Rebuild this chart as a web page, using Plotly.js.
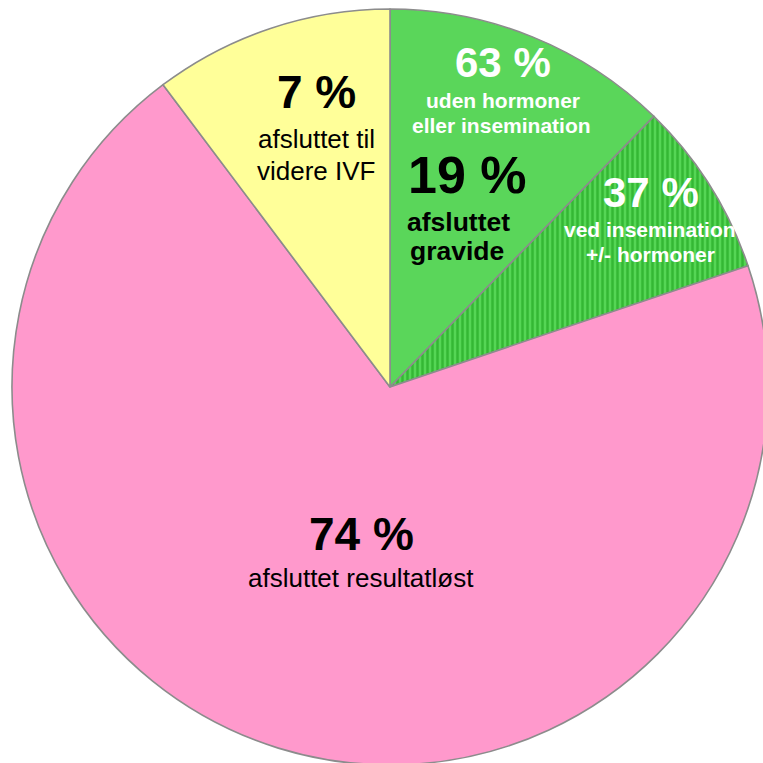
<!DOCTYPE html>
<html>
<head>
<meta charset="utf-8">
<script src="https://cdn.plot.ly/plotly-3.0.1.min.js"></script>
<style>
html, body { margin: 0; padding: 0; overflow: hidden; background: #ffffff; }
#chart { width: 800px; height: 800px; }
</style>
</head>
<body>
<div id="chart"></div>
<script>
// Slice categories (clockwise from 12 o'clock) and their drawn shares
const categories = ["uden hormoner eller insemination", "ved insemination +/- hormoner", "afsluttet resultatløst", "afsluttet til videre IVF"];
const shares = [12.3, 7.5, 69.95, 10.25];
const sliceColors = ["#5AD65A", "#3DBE3D", "#FF99CC", "#FFFF99"];

// Label texts shown on the chart
const pctLabels = ["63 %", "37 %", "74 %", "7 %", "19 %"];
const descLabels = [
  ["uden hormoner", "eller insemination"],
  ["ved insemination", "+/- hormoner"],
  ["afsluttet resultatløst"],
  ["afsluttet til", "videre IVF"],
  ["afsluttet", "gravide"]
];

const W = 800, H = 800;
function px(x) { return x / W; }
function py(y) { return 1 - y / H; }

const trace = {
  type: "pie",
  values: shares,
  labels: categories,
  sort: false,
  direction: "clockwise",
  rotation: 0,
  textinfo: "none",
  hoverinfo: "skip",
  showlegend: false,
  domain: { x: [px(12), px(768)], y: [py(765), py(9)] },
  marker: {
    colors: sliceColors,
    line: { color: "#8C8C8C", width: 1.6 },
    pattern: {
      shape: ["", "|", "", ""],
      fgcolor: "#139a13",
      bgcolor: "#55d655",
      size: 5,
      solidity: 0.5,
      fillmode: "overlay"
    }
  }
};

const F = "Liberation Sans, Arial, sans-serif";
function ann(text, x, y, size, color, bold) {
  return {
    text: bold ? "<b>" + text + "</b>" : text,
    xref: "paper", yref: "paper",
    x: px(x), y: py(y),
    xanchor: "center", yanchor: "middle",
    showarrow: false,
    font: { family: F, size: size, color: color }
  };
}

const annotations = [
  // 63 % uden hormoner eller insemination
  ann(pctLabels[0], 503, 63, 42, "#ffffff", true),
  ann(descLabels[0][0], 503, 100, 21, "#ffffff", true),
  ann(descLabels[0][1], 502, 125, 21, "#ffffff", true),
  // 37 % ved insemination +/- hormoner
  ann(pctLabels[1], 651, 192, 42, "#ffffff", true),
  ann(descLabels[1][0], 650, 229, 21, "#ffffff", true),
  ann(descLabels[1][1], 650, 254, 21, "#ffffff", true),
  // 74 % afsluttet resultatløst
  ann(pctLabels[2], 361, 534, 46, "#000000", true),
  ann(descLabels[2][0], 361, 578, 26, "#000000", false),
  // 7 % afsluttet til videre IVF
  ann(pctLabels[3], 316, 92, 46, "#000000", true),
  ann(descLabels[3][0], 316, 139, 26, "#000000", false),
  ann(descLabels[3][1], 316, 171, 26, "#000000", false),
  // 19 % afsluttet gravide
  ann(pctLabels[4], 467, 175, 52, "#000000", true),
  ann(descLabels[4][0], 458, 222, 26.5, "#000000", true),
  ann(descLabels[4][1], 457, 251, 26.5, "#000000", true)
];

const layout = {
  width: W, height: H,
  margin: { l: 0, r: 0, t: 0, b: 0 },
  paper_bgcolor: "#ffffff",
  plot_bgcolor: "#ffffff",
  showlegend: false,
  annotations: annotations
};

Plotly.newPlot("chart", [trace], layout, { displayModeBar: false, staticPlot: true });
</script>
</body>
</html>
